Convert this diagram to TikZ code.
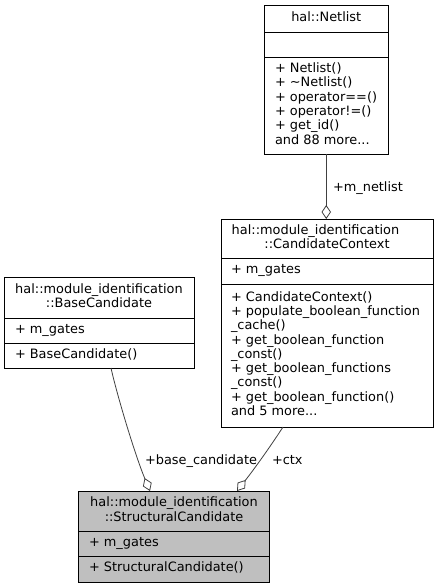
\documentclass[tikz,border=0pt]{standalone}
\usepackage{fontspec}
\setmainfont{DejaVu Sans}
\usetikzlibrary{arrows.meta,calc}
\begin{document}
\begin{tikzpicture}[x=1pt,y=-1pt,
  cls/.style={draw=black, line width=0.9pt, inner sep=0pt, outer sep=0pt},
  sepline/.style={draw=black, line width=0.9pt},
  txt/.style={inner sep=0pt, outer sep=0pt, font=\fontsize{12.9}{14.3}\selectfont},
  ttl/.style={txt, align=center},
  mem/.style={txt, align=left, anchor=west},
  rel/.style={draw=black!75, line width=0.8pt, -{Diamond[open,length=14pt,width=9.5pt,line width=0.8pt]}},
  lbl/.style={txt, anchor=base west}
]
\useasboundingbox (0,0) rectangle (439,588);

% hal::Netlist
\node[cls, minimum width=123.5pt, minimum height=149pt] (nl) at (326.25,79.5) {};
\draw[sepline] (264.5,32) -- (388,32);
\draw[sepline] (264.5,57) -- (388,57);
\node[ttl] (nlt) at (326.25,18.5) {\strut hal::Netlist};
\node[mem] (nlm) at (275,105.5) {\strut + Netlist()\\\strut + \textasciitilde Netlist()\\\strut + operator==()\\\strut + operator!=()\\\strut + get\_id()\\\strut and 88 more...};

% CandidateContext
\node[cls, minimum width=212pt, minimum height=208pt] (cc) at (327,323) {};
\draw[sepline] (221,258) -- (433,258);
\draw[sepline] (221,284) -- (433,284);
\node[txt] (cct1) at (315.5,231.8) {\strut hal::module\_identification};
\node[txt] (cct2) at (327,246.1) {\strut ::CandidateContext};
\node[mem] (cca) at (231,271) {\strut + m\_gates};
\node[mem] (ccm) at (231,355.5) {\strut + CandidateContext()\\\strut + populate\_boolean\_function\\\strut \_cache()\\\strut + get\_boolean\_function\\\strut \_const()\\\strut + get\_boolean\_functions\\\strut \_const()\\\strut + get\_boolean\_function()\\\strut and 5 more...};

% BaseCandidate
\node[cls, minimum width=190pt, minimum height=91pt] (bc) at (99,322.5) {};
\draw[sepline] (4,318) -- (194,318);
\draw[sepline] (4,343) -- (194,343);
\node[ttl] (bct) at (99,297.5) {\strut hal::module\_identification\\\strut ::BaseCandidate};
\node[mem] (bca) at (15,330.5) {\strut + m\_gates};
\node[mem] (bcm) at (15,355.5) {\strut + BaseCandidate()};

% StructuralCandidate
\node[cls, fill={rgb,255:red,191;green,191;blue,191}, minimum width=191pt, minimum height=91pt] (sc) at (174,536.5) {};
\draw[sepline] (78.5,531) -- (269.5,531);
\draw[sepline] (78.5,556) -- (269.5,556);
\node[ttl] (sct) at (174,511) {\strut hal::module\_identification\\\strut ::StructuralCandidate};
\node[mem] (sca) at (89,543.5) {\strut + m\_gates};
\node[mem] (scm) at (89,569) {\strut + StructuralCandidate()};

% relations
\draw[rel] (nl.south) -- (nl.south |- cc.north);
\node[lbl] (l1) at (333,191) {+m\_netlist};

\coordinate (bcs) at ($(bc.south)+(12,0)$);
\coordinate (sce1) at ($(sc.north)+(-24,0)$);
\draw[rel] (bcs) .. controls (117,395) and (135,455) .. (sce1);
\node[lbl] (l2) at (145,464) {+base\_candidate};

\coordinate (ccs) at ($(cc.south)+(-44,0)$);
\coordinate (sce2) at ($(sc.north)+(63,0)$);
\draw[rel] (ccs) .. controls (270,447) and (255,468) .. (sce2);
\node[lbl] (l3) at (272,464) {+ctx};
\end{tikzpicture}
\end{document}
